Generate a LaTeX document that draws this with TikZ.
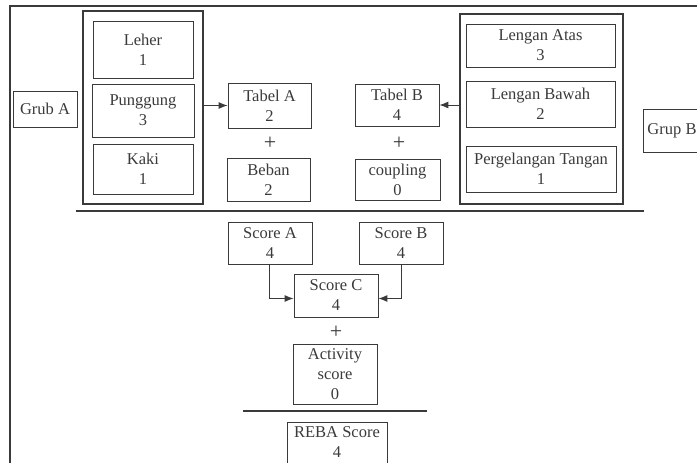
\documentclass[tikz,border=0pt]{standalone}
\usepackage{fontspec}
\setmainfont{Liberation Serif}
\usetikzlibrary{arrows.meta}
\definecolor{ink}{HTML}{3A3A3A}
\begin{document}
\begin{tikzpicture}[x=1pt,y=-1pt,
    box/.style={draw=ink,line width=0.8pt,text=ink,align=center,inner sep=0pt,
      font=\fontsize{16.5}{20}\selectfont},
    group/.style={draw=ink,line width=1.2pt,inner sep=0pt},
    plus/.style={text=ink,font=\fontsize{22}{22}\selectfont},
    bar/.style={draw=ink,line width=2.2pt},
    arr/.style={draw=ink,line width=1pt,-{Latex[length=9pt,width=7pt]}}]
        \useasboundingbox (0,0) rectangle (697,463);
        \clip (0,0) rectangle (697,463);

        % Frame
        \draw[ink,line width=1.5pt] (10,470) -- (10,6) -- (705,6);

        % Group A
        \node[box,minimum width=64,minimum height=36] (grubA) at (45,109) {Grub A};
        \node[group,minimum width=120,minimum height=193] (grpA) at (143,107.5) {};
        \node[box,minimum width=100,minimum height=57] (leher) at (143,49.5) {Leher\\1};
        \node[box,minimum width=102,minimum height=53] (punggung) at (143,110.5) {Punggung\\3};
        \node[box,minimum width=100,minimum height=50] (kaki) at (143,169) {Kaki\\1};

        % Tables A and B
        \node[box,minimum width=83,minimum height=45] (tabelA) at (269.5,105.5) {Tabel A\\2};
        \node[plus] (plusA) at (270,143) {+};
        \node[box,minimum width=83,minimum height=43] (beban) at (268.5,179.5) {Beban\\2};
        \node[box,minimum width=84,minimum height=42] (tabelB) at (397,105) {Tabel B\\4};
        \node[plus] (plusB) at (399,143) {+};
        \node[box,minimum width=85,minimum height=41] (coupling) at (397.5,179.5) {coupling\\0};

        % Group B
        \node[group,minimum width=163,minimum height=190] (grpB) at (541.5,109) {};
        \node[box,minimum width=149,minimum height=43] (atas) at (540.5,45.5) {Lengan Atas\\3};
        \node[box,minimum width=149,minimum height=46] (bawah) at (540.5,104) {Lengan Bawah\\2};
        \node[box,minimum width=150,minimum height=46] (tangan) at (541,169) {Pergelangan Tangan\\1};
        \node[box,minimum width=58,minimum height=43] (grupB) at (672,130.5) {Grup B};

        \draw[arr] (grpA.east |- tabelA) -- (tabelA.west);
        \draw[arr] (grpB.west |- tabelB) -- (tabelB.east);

        % Scores
        \draw[bar] (76,211) -- (644,211);
        \node[box,minimum width=84,minimum height=42] (scoreA) at (270,243) {Score A\\4};
        \node[box,minimum width=84,minimum height=42] (scoreB) at (401,243) {Score B\\4};
        \node[box,minimum width=84,minimum height=43] (scoreC) at (336,295.5) {Score C\\4};
        \draw[arr] ([xshift=-1]scoreA.south) |- ([yshift=-3]scoreC.west);
        \draw[arr] (scoreB.south) |- ([yshift=-3]scoreC.east);
        \node[plus] (plusC) at (336,332) {+};
        \node[box,minimum width=84,minimum height=60] (activity) at (335,374) {Activity\\score\\0};

        % Final
        \draw[bar] (243,411) -- (427,411);
        \node[box,minimum width=100,minimum height=60] (reba) at (337,452) {REBA Score\\4\\\mbox{}};
\end{tikzpicture}
\end{document}
